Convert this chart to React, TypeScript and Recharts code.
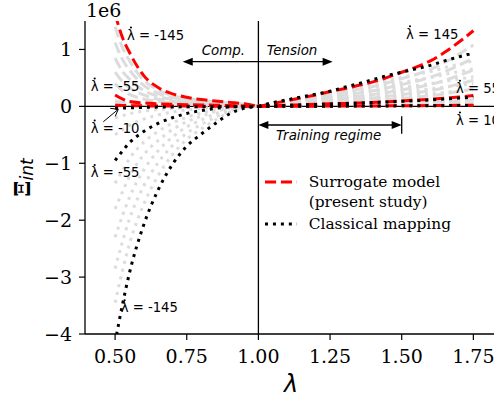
import React from 'react';
import { LineChart, Line, XAxis, YAxis, ReferenceLine, ReferenceDot, Legend } from 'recharts';

// ── Data (values in units of 1e6) ──────────────────────────────────────────────
const LAM_C = [0.5, 0.525, 0.55, 0.6, 0.65, 0.7, 0.75, 0.8, 0.85, 0.9, 0.95, 1.0];
const LAM_T = [1.0, 1.05, 1.1, 1.15, 1.2, 1.25, 1.3, 1.35, 1.4, 1.45, 1.5, 1.55, 1.6, 1.65, 1.7, 1.75];

const RATES = [10, 25, 40, 55, 70, 85, 100, 115, 130, 145];
const HIGHLIGHT = [10, 55, 145];

// surrogate model, compression (rate = -r)
const S_C_10 = [0.02, 0.015, 0.012, 0.009, 0.007, 0.006, 0.005, 0.004, 0.003, 0.002, 0.001, 0];
const S_C_25 = [0.05, 0.035, 0.025, 0.018, 0.014, 0.011, 0.009, 0.007, 0.006, 0.004, 0.002, 0];
const S_C_40 = [0.1, 0.068, 0.048, 0.034, 0.026, 0.02, 0.017, 0.014, 0.011, 0.008, 0.004, 0];
const S_C_55 = [0.2, 0.13, 0.085, 0.06, 0.045, 0.035, 0.03, 0.025, 0.02, 0.015, 0.008, 0];
const S_C_70 = [0.4, 0.28, 0.21, 0.13, 0.085, 0.06, 0.046, 0.036, 0.029, 0.022, 0.013, 0];
const S_C_85 = [0.6, 0.44, 0.33, 0.2, 0.125, 0.088, 0.066, 0.05, 0.04, 0.03, 0.018, 0];
const S_C_100 = [0.85, 0.62, 0.48, 0.28, 0.175, 0.12, 0.09, 0.068, 0.054, 0.04, 0.025, 0];
const S_C_115 = [1.12, 0.83, 0.64, 0.37, 0.23, 0.155, 0.115, 0.085, 0.067, 0.05, 0.032, 0];
const S_C_130 = [1.4, 1.04, 0.8, 0.46, 0.29, 0.19, 0.14, 0.105, 0.083, 0.06, 0.04, 0];
const S_C_145 = [1.62, 1.22, 0.95, 0.54, 0.33, 0.22, 0.16, 0.12, 0.095, 0.07, 0.045, 0];

// classical mapping, compression
const C_C_10 = [-0.035, -0.03, -0.025, -0.018, -0.013, -0.01, -0.007, -0.005, -0.003, -0.002, -0.001, 0];
const C_C_25 = [-0.2, -0.165, -0.13, -0.085, -0.055, -0.035, -0.02, -0.011, -0.005, -0.002, 0, 0];
const C_C_40 = [-0.5, -0.41, -0.33, -0.225, -0.15, -0.1, -0.062, -0.036, -0.017, -0.006, -0.001, 0];
const C_C_55 = [-0.95, -0.79, -0.64, -0.44, -0.3, -0.2, -0.125, -0.075, -0.035, -0.012, -0.003, 0];
const C_C_70 = [-1.35, -1.13, -0.92, -0.63, -0.44, -0.295, -0.19, -0.12, -0.06, -0.022, -0.005, 0];
const C_C_85 = [-1.8, -1.51, -1.23, -0.85, -0.6, -0.41, -0.27, -0.175, -0.09, -0.033, -0.008, 0];
const C_C_100 = [-2.3, -1.93, -1.6, -1.12, -0.78, -0.54, -0.36, -0.24, -0.13, -0.05, -0.012, 0];
const C_C_115 = [-2.85, -2.39, -1.98, -1.4, -0.99, -0.69, -0.47, -0.32, -0.19, -0.08, -0.02, 0];
const C_C_130 = [-3.45, -2.9, -2.42, -1.72, -1.22, -0.85, -0.58, -0.4, -0.24, -0.1, -0.026, 0];
const C_C_145 = [-4.15, -3.5, -2.93, -2.08, -1.47, -1.02, -0.7, -0.49, -0.3, -0.13, -0.035, 0];

// surrogate model, tension
const S_T_10 = [0, 0.001, 0.002, 0.003, 0.004, 0.005, 0.006, 0.007, 0.008, 0.009, 0.01, 0.012, 0.014, 0.016, 0.018, 0.02];
const S_T_25 = [0, 0.003, 0.005, 0.007, 0.009, 0.011, 0.013, 0.015, 0.018, 0.021, 0.025, 0.029, 0.033, 0.038, 0.044, 0.05];
const S_T_40 = [0, 0.006, 0.011, 0.016, 0.021, 0.026, 0.031, 0.036, 0.042, 0.049, 0.056, 0.064, 0.073, 0.084, 0.096, 0.11];
const S_T_55 = [0, 0.01, 0.02, 0.028, 0.036, 0.044, 0.052, 0.06, 0.07, 0.082, 0.095, 0.11, 0.125, 0.145, 0.165, 0.19];
const S_T_70 = [0, 0.012, 0.023, 0.035, 0.047, 0.06, 0.072, 0.086, 0.1, 0.119, 0.14, 0.161, 0.187, 0.221, 0.264, 0.31];
const S_T_85 = [0, 0.017, 0.035, 0.052, 0.069, 0.09, 0.107, 0.128, 0.149, 0.176, 0.207, 0.239, 0.277, 0.328, 0.391, 0.46];
const S_T_100 = [0, 0.024, 0.048, 0.072, 0.096, 0.125, 0.149, 0.178, 0.207, 0.245, 0.289, 0.332, 0.385, 0.457, 0.544, 0.64];
const S_T_115 = [0, 0.032, 0.064, 0.096, 0.128, 0.166, 0.198, 0.236, 0.275, 0.326, 0.383, 0.441, 0.512, 0.607, 0.723, 0.85];
const S_T_130 = [0, 0.041, 0.081, 0.122, 0.162, 0.211, 0.252, 0.3, 0.349, 0.414, 0.487, 0.56, 0.65, 0.771, 0.918, 1.08];
const S_T_145 = [0, 0.05, 0.1, 0.15, 0.2, 0.26, 0.31, 0.37, 0.43, 0.51, 0.6, 0.69, 0.8, 0.95, 1.13, 1.33];

// classical mapping, tension
const C_T_10 = [0, 0.001, 0.002, 0.003, 0.004, 0.004, 0.005, 0.006, 0.007, 0.008, 0.009, 0.01, 0.011, 0.013, 0.015, 0.017];
const C_T_25 = [0, 0.003, 0.005, 0.007, 0.009, 0.011, 0.013, 0.015, 0.017, 0.02, 0.023, 0.026, 0.03, 0.034, 0.039, 0.045];
const C_T_40 = [0, 0.006, 0.011, 0.015, 0.02, 0.024, 0.029, 0.034, 0.039, 0.045, 0.051, 0.058, 0.066, 0.075, 0.085, 0.097];
const C_T_55 = [0, 0.009, 0.018, 0.026, 0.034, 0.042, 0.05, 0.058, 0.067, 0.077, 0.088, 0.1, 0.113, 0.128, 0.145, 0.165];
const C_T_70 = [0, 0.02, 0.035, 0.051, 0.066, 0.082, 0.103, 0.124, 0.145, 0.166, 0.185, 0.204, 0.222, 0.247, 0.268, 0.29];
const C_T_85 = [0, 0.028, 0.049, 0.07, 0.092, 0.113, 0.142, 0.17, 0.2, 0.23, 0.255, 0.28, 0.306, 0.34, 0.37, 0.4];
const C_T_100 = [0, 0.036, 0.063, 0.092, 0.119, 0.147, 0.185, 0.22, 0.26, 0.3, 0.33, 0.365, 0.4, 0.44, 0.48, 0.52];
const C_T_115 = [0, 0.045, 0.08, 0.116, 0.151, 0.186, 0.235, 0.28, 0.33, 0.38, 0.42, 0.465, 0.505, 0.56, 0.61, 0.66];
const C_T_130 = [0, 0.055, 0.098, 0.14, 0.183, 0.226, 0.285, 0.34, 0.4, 0.46, 0.51, 0.56, 0.61, 0.68, 0.74, 0.8];
const C_T_145 = [0, 0.065, 0.115, 0.165, 0.215, 0.265, 0.335, 0.4, 0.47, 0.54, 0.6, 0.66, 0.72, 0.8, 0.87, 0.94];

const SURR_COMP = [S_C_10, S_C_25, S_C_40, S_C_55, S_C_70, S_C_85, S_C_100, S_C_115, S_C_130, S_C_145];
const CLAS_COMP = [C_C_10, C_C_25, C_C_40, C_C_55, C_C_70, C_C_85, C_C_100, C_C_115, C_C_130, C_C_145];
const SURR_TENS = [S_T_10, S_T_25, S_T_40, S_T_55, S_T_70, S_T_85, S_T_100, S_T_115, S_T_130, S_T_145];
const CLAS_TENS = [C_T_10, C_T_25, C_T_40, C_T_55, C_T_70, C_T_85, C_T_100, C_T_115, C_T_130, C_T_145];

const X_TICKS = [0.5, 0.75, 1.0, 1.25, 1.5, 1.75];
const Y_TICKS = [-4, -3, -2, -1, 0, 1];

// rate labels: [lambda, value, text]
const RATE_LABELS: Array<[number, number, string]> = [
  [0.5415, 1.254, '-145'],
  [0.415, 0.358, '-55'],
  [0.415, -0.38, '-10'],
  [0.415, -1.162, '-55'],
  [0.5196, -3.538, '-145'],
  [1.515, 1.275, '145'],
  [1.6894, 0.317, '55'],
  [1.6894, -0.24, '10'],
];

// ── Styling ──────────────────────────────────────────────────────────────────
const RED = '#ff0000';
const BLACK = '#000000';
const GREY = '#dcdcdc';
const DASHED = '11.1 4.8';
const DOTTED = '3 4.95';
const SERIF = '"DejaVu Serif", serif';
const SANS = '"DejaVu Sans", sans-serif';

const toPoints = (xs: number[], ys: number[]) => xs.map((x, i) => ({ x, y: ys[i] }));

const curve = (key: string, xs: number[], ys: number[], color: string, dash: string) => (
  <Line
    key={key}
    data={toPoints(xs, ys)}
    dataKey="y"
    type="monotone"
    stroke={color}
    strokeWidth={3}
    strokeDasharray={dash}
    dot={false}
    activeDot={false}
    legendType="none"
    isAnimationActive={false}
  />
);

const note = (key: string, x: number, y: number, text: string, italic = false, size = 13.2) => (
  <ReferenceDot
    key={key}
    x={x}
    y={y}
    r={0}
    ifOverflow="visible"
    shape={(p: any) => (
      <text
        x={p.cx}
        y={p.cy + size * 0.36}
        fontFamily={SANS}
        fontSize={size}
        fontStyle={italic ? 'italic' : 'normal'}
        fill={BLACK}
      >
        {text}
      </text>
    )}
  />
);

// λ with a dot above it, followed by " = rate"
const rateNote = (key: string, x: number, y: number, rate: string, size = 13.2) => (
  <ReferenceDot
    key={key}
    x={x}
    y={y}
    r={0}
    ifOverflow="visible"
    shape={(p: any) => {
      const base = p.cy + size * 0.36;
      return (
        <g>
          <text x={p.cx} y={base} fontFamily={SANS} fontSize={size} fill={BLACK}>
            {`λ = ${rate}`}
          </text>
          <circle cx={p.cx + size * 0.3} cy={base - size * 0.93} r={1.05} fill={BLACK} />
        </g>
      );
    }}
  />
);

// filled arrow head with tip at (x, y); dir = 1 points right, -1 points left
const head = (key: string, x: number, y: number, dir: number) => (
  <ReferenceDot
    key={key}
    x={x}
    y={y}
    r={0}
    ifOverflow="visible"
    shape={(p: any) => (
      <polygon
        points={`${p.cx},${p.cy} ${p.cx - dir * 10},${p.cy - 4} ${p.cx - dir * 10},${p.cy + 4}`}
        fill={BLACK}
      />
    )}
  />
);

const seg = (key: string, x1: number, y1: number, x2: number, y2: number, w = 1.3) => (
  <ReferenceLine
    key={key}
    segment={[{ x: x1, y: y1 }, { x: x2, y: y2 }]}
    stroke={BLACK}
    strokeWidth={w}
    ifOverflow="visible"
  />
);

const YLabel = (props: any) => {
  const vb = props.viewBox || { x: 0, y: 21, width: 85, height: 313 };
  const cx = 21;
  const cy = vb.y + vb.height / 2;
  return (
    <g>
      <text x={86} y={16.5} fontFamily={SERIF} fontSize={19} fill={BLACK}>1e6</text>
      <text
        x={cx}
        y={cy}
        transform={`rotate(-90, ${cx}, ${cy})`}
        textAnchor="middle"
        dominantBaseline="central"
        fill={BLACK}
      >
        <tspan fontFamily={SERIF} fontWeight="bold" fontSize={23}>Ξ</tspan>
        <tspan fontFamily={SANS} fontStyle="italic" fontSize={17} dy={6}>int</tspan>
      </text>
    </g>
  );
};

const XLabel = (props: any) => {
  const vb = props.viewBox || { x: 85, y: 334, width: 412, height: 40 };
  return (
    <text
      x={vb.x + vb.width / 2}
      y={392}
      textAnchor="middle"
      fontFamily={SANS}
      fontStyle="italic"
      fontSize={24}
      fill={BLACK}
    >
      λ
    </text>
  );
};

const LegendBox = () => (
  <div style={{ fontFamily: SERIF, fontSize: 15.4, lineHeight: '20px', color: BLACK }}>
    <div style={{ display: 'flex', alignItems: 'flex-start' }}>
      <svg width={32} height={20} style={{ display: 'block' }}>
        <line x1={0} y1={10} x2={32} y2={10} stroke={RED} strokeWidth={3} strokeDasharray={DASHED} />
      </svg>
      <div style={{ marginLeft: 12, whiteSpace: 'nowrap' }}>
        Surrogate model
        <br />
        (present study)
      </div>
    </div>
    <div style={{ display: 'flex', alignItems: 'flex-start', marginTop: 2.6 }}>
      <svg width={32} height={20} style={{ display: 'block' }}>
        <line x1={0} y1={10} x2={32} y2={10} stroke={BLACK} strokeWidth={3} strokeDasharray={DOTTED} />
      </svg>
      <div style={{ marginLeft: 12, whiteSpace: 'nowrap' }}>Classical mapping</div>
    </div>
  </div>
);

const fmtY = (v: number) => (v < 0 ? `\u2212${Math.abs(v)}` : `${v}`);

export default function App() {
  const grey = RATES.map((r) => !HIGHLIGHT.includes(r));
  return (
    <div
      style={{
        position: 'absolute', left: 0, top: 0, width: 494, height: 397,
        overflow: 'hidden', background: '#fff',
      }}
    >
      <LineChart width={497} height={397} margin={{ top: 21, right: 0, bottom: 23, left: 0 }}>
        <XAxis
          type="number"
          dataKey="x"
          domain={[0.395, 1.8325]}
          allowDataOverflow
          ticks={X_TICKS}
          interval={0}
          tickFormatter={(v: number) => v.toFixed(2)}
          tick={{ fontFamily: SERIF, fontSize: 19, fill: BLACK }}
          tickSize={6}
          tickMargin={10}
          tickLine={{ stroke: BLACK, strokeWidth: 1.2 }}
          axisLine={{ stroke: BLACK, strokeWidth: 1.3 }}
          height={40}
          label={<XLabel />}
        />
        <XAxis
          xAxisId="top"
          orientation="top"
          type="number"
          dataKey="x"
          domain={[0.395, 1.8325]}
          allowDataOverflow
          tick={false}
          tickLine={false}
          axisLine={{ stroke: BLACK, strokeWidth: 1.3 }}
          height={0}
        />
        <YAxis
          type="number"
          domain={[-4, 1.5]}
          allowDataOverflow
          ticks={Y_TICKS}
          interval={0}
          tickFormatter={fmtY}
          tick={{ fontFamily: SERIF, fontSize: 19, fill: BLACK }}
          tickSize={6}
          tickMargin={7}
          tickLine={{ stroke: BLACK, strokeWidth: 1.2 }}
          axisLine={{ stroke: BLACK, strokeWidth: 1.3 }}
          width={85}
          label={<YLabel />}
        />

        <ReferenceLine y={0} stroke={BLACK} strokeWidth={1.3} />
        <ReferenceLine x={1} stroke={BLACK} strokeWidth={1.3} />

        {RATES.map((r, i) => grey[i] && curve(`gsc${r}`, LAM_C, SURR_COMP[i], GREY, DASHED))}
        {RATES.map((r, i) => grey[i] && curve(`gst${r}`, LAM_T, SURR_TENS[i], GREY, DASHED))}
        {RATES.map((r, i) => grey[i] && curve(`gcc${r}`, LAM_C, CLAS_COMP[i], GREY, DOTTED))}
        {RATES.map((r, i) => grey[i] && curve(`gct${r}`, LAM_T, CLAS_TENS[i], GREY, DOTTED))}

        {RATES.map((r, i) => !grey[i] && curve(`sc${r}`, LAM_C, SURR_COMP[i], RED, DASHED))}
        {RATES.map((r, i) => !grey[i] && curve(`st${r}`, LAM_T, SURR_TENS[i], RED, DASHED))}
        {RATES.map((r, i) => !grey[i] && curve(`cc${r}`, LAM_C, CLAS_COMP[i], BLACK, DOTTED))}
        {RATES.map((r, i) => !grey[i] && curve(`ct${r}`, LAM_T, CLAS_TENS[i], BLACK, DOTTED))}

        {RATE_LABELS.map(([x, y, t], i) => rateNote(`rl${i}`, x, y, t))}

        {/* compression / tension arrows */}
        {seg('comp', 1, 0.785, 0.76, 0.785)}
        {head('comph', 0.736, 0.785, -1)}
        {note('compt', 0.802, 0.99, 'Comp.', true, 13.4)}
        {seg('tens', 1, 0.785, 1.235, 0.785)}
        {head('tensh', 1.259, 0.785, 1)}
        {note('tenst', 1.029, 0.99, 'Tension', true, 13.4)}

        {/* training regime */}
        {seg('train', 1.02, -0.3275, 1.48, -0.3275)}
        {head('trainl', 1.0, -0.3275, -1)}
        {head('trainr', 1.5, -0.3275, 1)}
        {seg('trainbar', 1.5, -0.173, 1.5, -0.482)}
        {note('traint', 1.0614, -0.503, 'Training regime', true, 13.4)}

        {/* pointer to the -10 curves */}
        {seg('p10', 0.459, -0.27, 0.511, -0.052, 1)}
        <ReferenceDot
          x={0.511}
          y={-0.052}
          r={0}
          ifOverflow="visible"
          shape={(p: any) => (
            <polyline
              points={`${p.cx - 8},${p.cy - 1} ${p.cx},${p.cy} ${p.cx - 3},${p.cy + 7}`}
              fill="none"
              stroke={BLACK}
              strokeWidth={1}
            />
          )}
        />

        <Legend
          layout="vertical"
          align="center"
          verticalAlign="middle"
          wrapperStyle={{ left: 264.7, top: 171.7, width: 'auto', height: 'auto' }}
          content={() => <LegendBox />}
        />
      </LineChart>
    </div>
  );
}
